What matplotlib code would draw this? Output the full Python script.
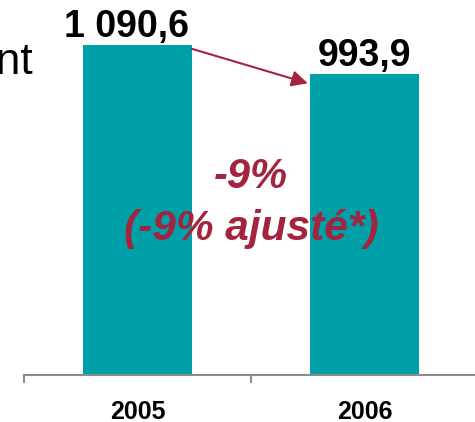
import matplotlib
matplotlib.use('Agg')
import matplotlib.pyplot as plt

plt.rcParams['font.family'] = ['Liberation Sans', 'DejaVu Sans']

annees = ['2005', '2006']
valeurs = [1090.6, 993.9]
etiquettes = ['1 090,6', '993,9']
variation = '-9%'
variation_ajustee = '(-9% ajusté*)'

TEAL = '#00A0A8'
ROUGE = '#A3243F'
GRIS = '#8C8C8C'

fig = plt.figure(figsize=(4.75, 4.22), dpi=100)
ax = fig.add_axes([24 / 475, 47 / 422, 454 / 475, 375 / 422])

x = list(range(len(annees)))
ax.bar(x, valeurs, width=0.48, color=TEAL)
ax.set_xlim(-0.5, 1.5)
ax.set_ylim(0, 1239)

for s in ['top', 'right', 'left']:
    ax.spines[s].set_visible(False)
ax.spines['bottom'].set_color(GRIS)
ax.spines['bottom'].set_linewidth(1.5)
ax.set_yticks([])
ax.set_xticks([-0.5, 0.5, 1.5])
ax.set_xticklabels([])
ax.tick_params(axis='x', which='major', direction='out', length=6, width=1.5, color=GRIS)
ax.set_xticks(x, minor=True)
ax.set_xticklabels(annees, minor=True, fontsize=18, fontweight='bold')
ax.tick_params(axis='x', which='minor', length=0, pad=18)

# valeurs au-dessus des barres
decalages = [-11, 0]
for xi, v, lab, dx in zip(x, valeurs, etiquettes, decalages):
    ax.annotate(lab, (xi, v), xytext=(dx * 0.72, 6), textcoords='offset points',
                ha='center', va='baseline', fontsize=27, fontweight='bold')

# fleche entre les deux barres
ax.annotate('', xy=(x[1] - 0.25, valeurs[1] - 30), xytext=(x[0] + 0.24, valeurs[0] - 13),
            arrowprops=dict(arrowstyle='-|>', color=ROUGE, lw=1.5, mutation_scale=24,
                            shrinkA=0, shrinkB=0))

ax.text(0.5, 618, variation, ha='center', va='baseline', fontsize=30,
        fontweight='bold', style='italic', color=ROUGE)
ax.text(0.5, 446, variation_ajustee, ha='center', va='baseline', fontsize=30.5,
        fontweight='bold', style='italic', color=ROUGE)

fig.text(33 / 475, 1 - 74 / 422, 'Montant', ha='right', va='baseline', fontsize=32)

fig.savefig('out.png', dpi=100)
